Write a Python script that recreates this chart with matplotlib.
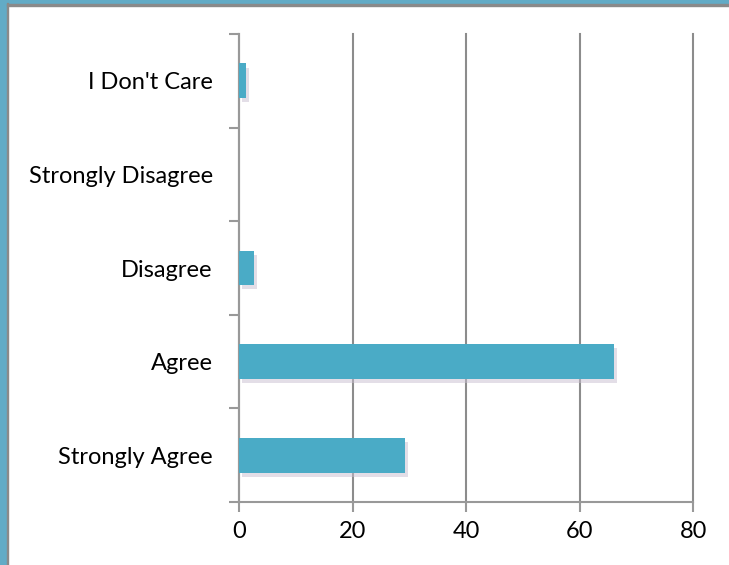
import matplotlib
matplotlib.use('Agg')
import matplotlib.pyplot as plt
import matplotlib.patheffects as pe
from matplotlib.patches import Rectangle

categories = ['Strongly Agree', 'Agree', 'Disagree', 'Strongly Disagree', "I Don't Care"]
values = [29.2, 66.1, 2.6, 0, 1.3]
xticks = [0, 20, 40, 60, 80]

plt.rcParams['font.family'] = ['Lato', 'DejaVu Sans']

fig = plt.figure(figsize=(7.29, 5.65), dpi=100)
# 外框 (蓝色边)
fig.patches.append(Rectangle((0, 0), 0.009, 1, transform=fig.transFigure, color='#62abc6', zorder=0))
fig.patches.append(Rectangle((0, 0.995), 1, 0.005, transform=fig.transFigure, color='#62abc6', zorder=0))
fig.patches.append(Rectangle((0.009, 0), 0.002, 0.995, transform=fig.transFigure, color='#8a8a8a', zorder=0))
fig.patches.append(Rectangle((0.009, 0.990), 0.991, 0.003, transform=fig.transFigure, color='#8a8a8a', zorder=0))

ax = fig.add_axes([0.328, 0.1115, 0.623, 0.8283])
pos = list(range(len(categories)))
bars = ax.barh(pos, values, height=0.37, color='#4aabc6', zorder=3)
for b in bars:
    b.set_path_effects([pe.SimplePatchShadow(offset=(2, -3), shadow_rgbFace='#c9bfd0', alpha=0.5), pe.Normal()])

ax.set_xlim(0, 80)
ax.set_ylim(-0.5, len(categories) - 0.5)
ax.set_xticks(xticks)
ax.set_yticks(pos)
ax.set_yticklabels(categories)
ax.set_yticks([p - 0.5 for p in pos] + [len(categories) - 0.5], minor=True)

for s in ['top', 'right']:
    ax.spines[s].set_visible(False)
for s in ['left', 'bottom']:
    ax.spines[s].set_color('#999999')
    ax.spines[s].set_linewidth(1.5)

ax.xaxis.grid(True, color='#8c8c8c', linewidth=1.5, zorder=0)
for gl in ax.get_xgridlines():
    gl.set_clip_on(False)
ax.set_axisbelow(True)
ax.tick_params(axis='y', which='major', length=0, labelsize=17, pad=19)
ax.tick_params(axis='y', which='minor', length=7, width=1.5, color='#999999')
ax.tick_params(axis='x', length=7, width=1.5, color='#999999', labelsize=17, pad=7)

plt.savefig('out.png', dpi=100)
